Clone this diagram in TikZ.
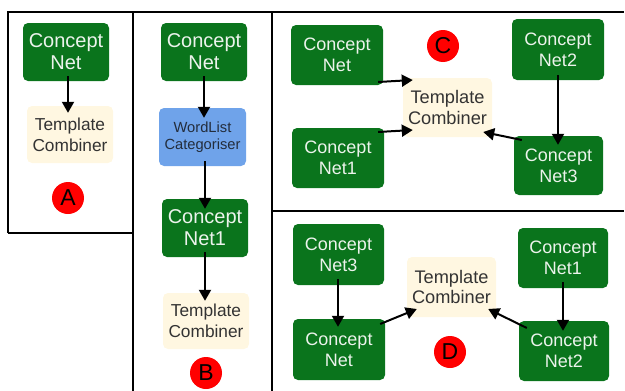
\documentclass[tikz,border=0pt]{standalone}
\usepackage{fontspec}
\setmainfont{Liberation Sans}
\usetikzlibrary{arrows.meta,calc}
\definecolor{cnGreen}{RGB}{10,116,28}
\definecolor{tcCream}{RGB}{255,247,225}
\definecolor{wlBlue}{RGB}{111,163,234}
\definecolor{txtGray}{RGB}{51,51,51}
\definecolor{wlText}{RGB}{35,45,60}
\definecolor{txtLight}{RGB}{236,243,236}
\tikzset{
  box/.style={rounded corners=5pt, inner sep=0pt, align=center},
  cnet/.style={box, fill=cnGreen, text=txtLight},
  bigtxt/.style={font=\fontsize{20}{22}\selectfont},
  midtxt/.style={font=\fontsize{18}{21}\selectfont},
  tcomb/.style={box, fill=tcCream, text=txtGray},
  tcA/.style={font=\fontsize{17.3}{21}\selectfont},
  tcC/.style={font=\fontsize{18.2}{20.5}\selectfont},
  wlist/.style={box, fill=wlBlue, text=wlText, font=\fontsize{14.7}{17}\selectfont},
  badge/.style={circle, fill=red, inner sep=0pt, minimum size=32pt, text=black, font=\fontsize{23}{23}\selectfont},
  sz/.style 2 args={minimum width=#1pt, minimum height=#2pt},
  flow/.style={line width=2pt, -{Triangle[length=11pt,width=12pt]}},
  frame/.style={line width=2pt, black}
}
\begin{document}
\begin{tikzpicture}[x=1pt,y=-1pt]
\useasboundingbox (0,0) rectangle (625,391);
% frames
\draw[frame] (8,233) -- (8,11.5) -- (624,11.5);
\draw[frame] (8,233) -- (133,233);
\draw[frame] (133,11.5) -- (133,391);
\draw[frame] (271.5,11.5) -- (271.5,391);
\draw[frame] (271.5,211) -- (624,211);
% Panel A
\node[cnet, bigtxt, sz={86}{58}] (anet) at (66,52) {Concept\\Net};
\node[tcomb, tcA, sz={86}{57}] (atc) at (70,134.5) {Template\\Combiner};
\node[badge] (abadge) at (68,198) {A};
\draw[flow] ($(anet.south)+(2,-5)$) -- ($(atc.north)+(-2,7)$);
% Panel B
\node[cnet, bigtxt, sz={86}{58}] (bnet) at (204,52) {Concept\\Net};
\node[wlist, sz={87}{58}] (bwl) at (202.5,137) {WordList\\Categoriser};
\node[cnet, bigtxt, sz={86}{58}] (bnet1) at (205,228) {Concept\\Net1};
\node[tcomb, tcA, sz={86}{56}] (btc) at (206,321) {Template\\Combiner};
\node[badge] (bbadge) at (206,373) {B};
\draw[flow] ($(bnet.south)+(0,-5)$) -- ($(bwl.north)+(1.5,10)$);
\draw[flow] ($(bwl.south)+(2.5,-5)$) -- ($(bnet1.north)+(0,10)$);
\draw[flow] ($(bnet1.south)+(0,-5)$) -- ($(btc.north)+(-1,8)$);
% Panel C
\node[cnet, midtxt, sz={92}{60}] (cnet) at (337,55) {Concept\\Net};
\node[cnet, midtxt, sz={92}{60}] (cnet1) at (338,158) {Concept\\Net1};
\node[tcomb, tcC, sz={89}{59}] (ctc) at (447.5,107.5) {Template\\Combiner};
\node[cnet, midtxt, sz={92}{61}] (cnet2) at (558,49.5) {Concept\\Net2};
\node[cnet, midtxt, sz={89}{59}] (cnet3) at (558.5,165.5) {Concept\\Net3};
\node[badge] (cbadge) at (443,46) {C};
\draw[flow] ($(cnet.east)+(-5,27)$) -- ($(ctc.west)+(10,-27.5)$);
\draw[flow] ($(cnet1.east)+(-6,-26)$) -- ($(ctc.west)+(10,22.5)$);
\draw[flow] ($(cnet3.west)+(8,-25.5)$) -- ($(ctc.east)+(-9,24.5)$);
\draw[flow] ($(cnet2.south)+(0,-5)$) -- ($(cnet3.north)+(-0.5,9)$);
% Panel D
\node[cnet, midtxt, sz={91}{61}] (dnet3) at (338.5,254.5) {Concept\\Net3};
\node[cnet, midtxt, sz={92}{61}] (dnet) at (339,349.5) {Concept\\Net};
\node[tcomb, tcC, sz={89}{60}] (dtc) at (451.5,287) {Template\\Combiner};
\node[cnet, midtxt, sz={90}{60}] (dnet1) at (563,258) {Concept\\Net1};
\node[cnet, midtxt, sz={90}{60}] (dnet2) at (564,351) {Concept\\Net2};
\node[badge] (dbadge) at (450,352) {D};
\draw[flow] ($(dnet3.south)+(-0.5,-6)$) -- ($(dnet.north)+(-1,8)$);
\draw[flow] ($(dnet.east)+(-5,-25.5)$) -- ($(dtc.west)+(10,22)$);
\draw[flow] ($(dnet1.south)+(0,-6)$) -- ($(dnet2.north)+(-1,10)$);
\draw[flow] ($(dnet2.west)+(8,-23)$) -- ($(dtc.east)+(-8,22)$);
\end{tikzpicture}
\end{document}
